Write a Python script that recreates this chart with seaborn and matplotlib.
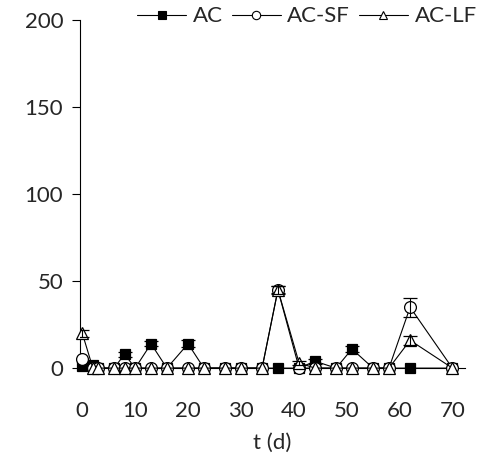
import matplotlib
matplotlib.use("Agg")
import matplotlib.pyplot as plt
import seaborn as sns
import pandas as pd
import numpy as np
from matplotlib.lines import Line2D

t = [0, 2, 3, 6, 8, 10, 13, 16, 20, 23, 27, 30, 34, 37, 41, 44, 48, 51, 55, 58, 62, 70]
ac = [1, 2, 0, 0, 8, 0, 14, 0, 14, 0, 0, 0, 0, 0, 0, 4, 0, 11, 0, 0, 0, 0]
ac_err = [0, 1, 0, 0, 1.5, 0, 1.5, 0, 2, 0, 0, 0, 0, 0, 0, 1.5, 0, 1.5, 0, 0, 0, 0]
sf = [5, 0, 0, 0, 0, 0, 0, 0, 0, 0, 0, 0, 0, 45, 0, 0, 0, 0, 0, 0, 35, 0]
sf_err = [0, 0, 0, 0, 0, 0, 0, 0, 0, 0, 0, 0, 0, 2, 0, 0, 0, 0, 0, 0, 5.5, 0]
lf = [20, 0, 0, 0, 0, 0, 0, 0, 0, 0, 0, 0, 0, 45, 3, 0, 0, 0, 0, 0, 16, 0]
lf_err = [2, 0, 0, 0, 0, 0, 0, 0, 0, 0, 0, 0, 0, 2.4, 1, 0, 0, 0, 0, 0, 2.5, 0]
labels = ["AC", "AC-SF", "AC-LF"]
y_ticks = [0, 50, 100, 150, 200]
x_ticks = [0, 10, 20, 30, 40, 50, 60, 70]

sns.set_style("white")
plt.rcParams['font.family'] = ['Lato', 'DejaVu Sans']

fig = plt.figure(figsize=(4.78, 4.59), dpi=100)
ax = fig.add_axes([0.167, 0.198, 0.806, 0.758])

series = [
    (labels[0], ac, ac_err, 's', 'black', 6.5, 3),
    (labels[1], sf, sf_err, 'o', 'white', 8.5, 4),
    (labels[2], lf, lf_err, '^', 'white', 8.5, 5),
]
for name, vals, errs, mk, fc, ms, z in series:
    df = pd.DataFrame({"t": t, "v": vals})
    sns.lineplot(data=df, x="t", y="v", ax=ax, color="black", lw=0.8,
                 marker=mk, markersize=ms, markerfacecolor=fc,
                 markeredgecolor="black", markeredgewidth=0.9,
                 zorder=z, label=name, legend=False, clip_on=False)
    e = np.array(errs)
    m = e > 0
    ax.errorbar(np.array(t)[m], np.array(vals)[m], yerr=e[m], fmt='none',
                ecolor='black', elinewidth=0.8, capsize=5, capthick=0.9,
                zorder=z)

ax.set_xlim(-0.47, 72.4)
ax.set_ylim(0, 200)
ax.set_xticks(x_ticks)
ax.set_yticks(y_ticks)
ax.tick_params(axis='y', direction='out', length=6, width=0.8, left=True,
               labelsize=16, pad=6, color='black')
ax.tick_params(axis='x', length=0, labelsize=16, pad=24)
for s in ['top', 'right']:
    ax.spines[s].set_visible(False)
for s in ['left', 'bottom']:
    ax.spines[s].set_color('black')
    ax.spines[s].set_linewidth(0.8)
    ax.spines[s].set_zorder(2)
ax.set_xlabel("t (d)", fontsize=16, labelpad=8)
ax.set_ylabel("")

handles = []
for name, vals, errs, mk, fc, ms, z in series:
    handles.append(Line2D([], [], color='black', lw=0.8, marker=mk, markersize=6,
                          markerfacecolor=fc, markeredgecolor='black',
                          markeredgewidth=0.8))
fig.legend(handles, labels, loc='upper right', bbox_to_anchor=(1.025, 1.015),
           ncol=3, frameon=False, fontsize=16, handlelength=2.2,
           handletextpad=0.3, columnspacing=0.4, borderaxespad=0.2)

fig.savefig("out.png", dpi=100)
